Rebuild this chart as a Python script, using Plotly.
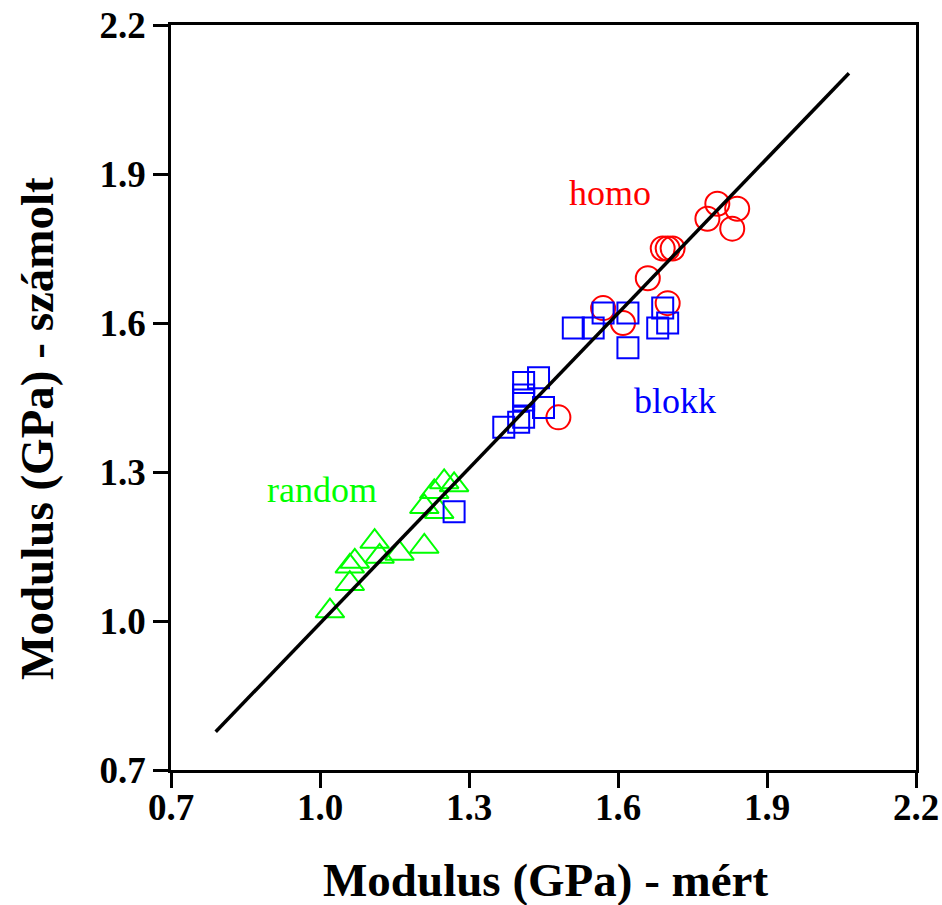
import plotly.graph_objects as go

# Measured vs. calculated modulus (GPa) for three copolymer structures
homo_mert = [1.48, 1.57, 1.61, 1.70, 1.66, 1.69, 1.70, 1.71, 1.78, 1.80, 1.83, 1.84]
homo_szamolt = [1.41, 1.63, 1.60, 1.64, 1.69, 1.75, 1.75, 1.75, 1.81, 1.84, 1.79, 1.83]

blokk_mert = [1.27, 1.37, 1.40, 1.41, 1.45, 1.41, 1.41, 1.41, 1.44,
              1.51, 1.55, 1.57, 1.62, 1.62, 1.68, 1.70, 1.69]
blokk_szamolt = [1.22, 1.39, 1.40, 1.41, 1.43, 1.445, 1.455, 1.48, 1.49,
                 1.59, 1.59, 1.62, 1.62, 1.55, 1.59, 1.60, 1.63]

random_mert = [1.02, 1.06, 1.06, 1.07, 1.11, 1.12, 1.16, 1.21, 1.21, 1.23, 1.24, 1.25, 1.27]
random_szamolt = [1.02, 1.075, 1.11, 1.12, 1.16, 1.13, 1.136, 1.15, 1.23, 1.26, 1.22, 1.28, 1.274]

# Fitted line
fit_x = [0.79, 2.065]
fit_y = [0.777, 2.103]

tick_vals = [0.7, 1.0, 1.3, 1.6, 1.9, 2.2]
tick_text = ["0.7", "1.0", "1.3", "1.6", "1.9", "2.2"]

SERIF = "Liberation Serif"

fig = go.Figure()

fig.add_trace(go.Scatter(
    x=random_mert, y=random_szamolt, mode="markers", name="random",
    marker=dict(symbol="triangle-up-open", size=25, color="#00ff00",
                line=dict(color="#00ff00", width=2)),
))
fig.add_trace(go.Scatter(
    x=homo_mert, y=homo_szamolt, mode="markers", name="homo",
    marker=dict(symbol="circle-open", size=24, color="#ff0000",
                line=dict(color="#ff0000", width=2)),
))
fig.add_trace(go.Scatter(
    x=blokk_mert, y=blokk_szamolt, mode="markers", name="blokk",
    marker=dict(symbol="square-open", size=21, color="#0000ff",
                line=dict(color="#0000ff", width=2)),
))
fig.add_trace(go.Scatter(
    x=fit_x, y=fit_y, mode="lines", name="fit",
    line=dict(color="black", width=3.5),
))

axis_common = dict(
    range=[0.7, 2.2], tickvals=tick_vals, ticktext=tick_text,
    showline=True, linecolor="black", linewidth=2.5, mirror=True,
    ticks="outside", ticklen=15, tickwidth=2.5, tickcolor="black",
    showgrid=False, zeroline=False, automargin=False,
    tickfont=dict(family=SERIF, size=37, color="black", weight="bold"),
)

fig.update_layout(
    width=942, height=905,
    margin=dict(l=171, r=26, t=25, b=135),
    paper_bgcolor="white", plot_bgcolor="white",
    showlegend=False,
    xaxis=dict(axis_common, ticklabelstandoff=-12),
    yaxis=axis_common,
    annotations=[
        dict(text="<b>Modulus (GPa) - mért</b>", xref="paper", yref="paper",
             x=0.503, y=-0.148, xanchor="center", yanchor="middle",
             showarrow=False, font=dict(family=SERIF, size=47, color="black")),
        dict(text="<b>Modulus (GPa) - számolt</b>", xref="paper", yref="paper",
             x=-0.18, y=0.459, xanchor="center", yanchor="middle", textangle=-90,
             showarrow=False, font=dict(family=SERIF, size=47, color="black")),
        dict(text="homo", x=1.584, y=1.862, xanchor="center", yanchor="middle",
             showarrow=False, font=dict(family=SERIF, size=36, color="#ff0000")),
        dict(text="blokk", x=1.7145, y=1.443, xanchor="center", yanchor="middle",
             showarrow=False, font=dict(family=SERIF, size=36, color="#0000ff")),
        dict(text="random", x=1.0045, y=1.263, xanchor="center", yanchor="middle",
             showarrow=False, font=dict(family=SERIF, size=36, color="#00ff00")),
    ],
)

fig.write_html("out.html")
